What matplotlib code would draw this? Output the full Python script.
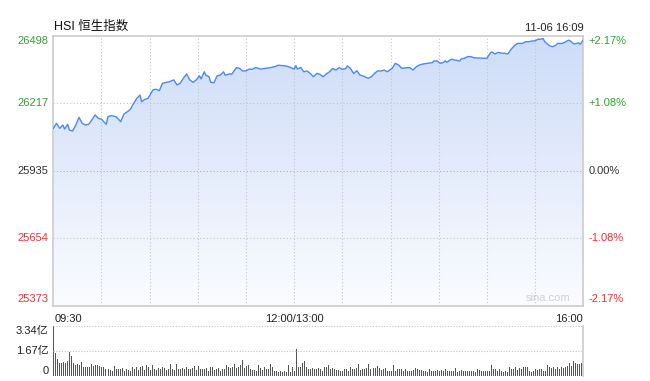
import matplotlib
matplotlib.use("Agg")
import matplotlib.pyplot as plt
import numpy as np
from matplotlib.colors import LinearSegmentedColormap

plt.rcParams['font.family'] = ['Liberation Sans', 'Noto Sans CJK SC', 'DejaVu Sans']

# trading minutes since 09:30 (lunch break removed), index level
minutes = [0, 2, 4, 6, 7, 9, 10, 12, 14, 16, 18, 20, 22, 24, 26, 28, 30, 33, 34, 36, 39, 42, 44, 46, 48, 50,
           52, 54, 55, 57, 59, 62, 64, 66, 68, 72, 75, 77, 79, 81, 83,
           85, 87, 89, 91, 92, 94, 95, 97, 98, 100, 102, 104, 106, 107, 110, 111, 114, 116, 118, 120,
           122, 124, 126, 129, 132, 135, 138, 140, 144, 147, 150, 151, 152, 154, 156, 158, 160, 162, 164, 166,
           168, 170, 172, 174, 176, 178, 180, 182, 183, 185, 187, 189, 191, 193, 196, 198, 200, 202, 204, 206,
           208, 210, 211, 213, 215, 217, 220, 222, 224, 226, 228, 230, 233, 236, 237, 239, 241, 243, 244, 245,
           247, 248,
           250, 253, 254, 256, 258, 260, 262, 265, 268, 270, 272, 273, 275, 277, 279, 281, 283, 285, 287, 289,
           292, 294, 296, 298, 300, 302, 303, 305, 306, 309, 311, 313, 314, 317, 319, 321, 323, 324, 326, 327,
           328, 330]
index = [26111, 26132, 26111, 26125, 26108, 26128, 26104, 26100, 26125, 26157, 26132, 26125, 26128, 26146,
         26167, 26153, 26149, 26128, 26160, 26164, 26160, 26139, 26171, 26180, 26190, 26215, 26236, 26250,
         26222, 26232, 26236, 26271, 26274, 26268, 26299, 26305, 26313, 26292, 26299, 26320, 26338,
         26313, 26303, 26313, 26330, 26317, 26347, 26333, 26326, 26303, 26301, 26330, 26333, 26347, 26333,
         26338, 26336, 26364, 26361, 26350, 26351, 26358, 26357, 26365, 26358, 26361, 26364, 26368, 26374,
         26372, 26367, 26358, 26372, 26358, 26365, 26347, 26350, 26340, 26326, 26340, 26336,
         26326, 26338, 26347, 26361, 26354, 26364, 26357, 26360, 26371, 26361, 26340, 26351, 26333, 26329,
         26320, 26326, 26340, 26351, 26350, 26354, 26347, 26357, 26361, 26382, 26375, 26361, 26364, 26364,
         26354, 26368, 26375, 26379, 26382, 26385, 26392, 26392, 26382, 26386, 26393, 26386, 26396, 26399,
         26396, 26392, 26400, 26403, 26410, 26410, 26405, 26404, 26403, 26403, 26424, 26430, 26421, 26428,
         26424, 26424, 26421, 26440, 26455, 26465, 26465, 26472, 26472, 26475, 26476, 26483, 26482, 26485,
         26472, 26455, 26451, 26458, 26465, 26465, 26472, 26479, 26470, 26463, 26465, 26468, 26461, 26479]

# volume bars (亿), evenly spread over the session
volume = [3.34, 1.56, 1.10, 0.88, 0.84, 0.93, 0.88, 1.00, 1.62, 1.33,
          0.84, 0.72, 0.77, 0.72, 0.90, 0.61, 0.61, 0.61, 0.61, 0.79,
          0.68, 0.70, 0.70, 0.65, 0.56, 0.61, 0.47, 0.43, 0.38, 0.29,
          0.65, 0.43, 0.47, 0.43, 0.50, 0.34, 0.43, 0.38, 0.32, 0.56,
          0.43, 0.56, 0.38, 0.61, 0.68, 0.38, 0.72, 0.61, 0.38, 0.70,
          0.43, 0.38, 0.52, 0.43, 0.56, 0.52, 0.38, 0.43, 0.77, 0.43,
          0.38, 0.77, 0.43, 0.47, 0.52, 0.43, 0.56, 0.47, 0.43, 0.52,
          0.65, 0.38, 0.65, 0.47, 0.43, 0.47, 0.52, 0.34, 0.61, 0.56,
          0.38, 0.43, 0.52, 0.34, 0.47, 0.43, 0.70, 0.56, 0.52, 0.61,
          0.79, 0.52, 0.61, 0.70, 1.06, 0.52, 0.65, 0.72, 0.43, 0.38,
          0.38, 0.34, 0.72, 0.52, 0.38, 0.61, 0.43, 0.47, 0.79, 0.56,
          0.29, 0.29, 0.25, 0.29, 0.25, 0.34, 0.25, 0.70, 0.27, 0.61,
          0.29, 1.78, 0.56, 0.56, 0.84, 0.97, 0.56, 0.47, 0.47, 0.52,
          0.43, 0.47, 0.52,
          0.43, 0.34, 0.56, 0.56, 0.70, 0.47, 0.52, 0.47, 0.38, 0.38,
          0.34, 0.29, 0.43, 0.43, 0.34, 0.56, 0.47, 0.47, 0.52, 0.79,
          0.38, 0.43, 0.47, 0.52, 0.79, 0.47, 0.52, 0.52, 0.65, 0.52,
          0.38, 0.47, 0.52, 0.29, 0.34, 0.34, 0.72, 0.34, 0.43, 0.43,
          0.47, 0.29, 0.43, 0.34, 0.29, 0.34, 0.38, 0.52, 0.43, 0.38,
          0.38, 0.29, 0.34, 0.25, 0.43, 0.29, 0.34, 0.34, 0.38, 0.34,
          0.38, 0.29, 0.43, 0.34, 0.34, 0.29, 0.29, 0.52, 0.25, 0.34,
          0.38, 0.34, 0.29, 0.34, 0.29, 0.34, 0.29, 0.25, 0.43, 0.38,
          0.34, 0.29, 0.29, 0.34, 0.34, 0.72, 0.47, 0.43, 0.34, 0.47,
          0.29, 0.25, 0.34, 0.25, 0.56, 0.47, 0.47, 0.56, 0.38, 0.52,
          0.43, 0.56, 0.56, 0.56, 0.29, 0.25, 0.34, 0.47, 0.38, 0.47,
          0.47, 0.29, 0.34, 0.70, 0.61, 0.52, 0.56, 0.47, 0.56, 0.47,
          0.56, 0.52, 0.61, 0.65, 0.84, 0.65, 1.02, 0.88, 0.79, 0.79,
          0.88, 1.24]

prev_close = 25935
y_levels = [26498, 26217, 25935, 25654, 25373]
pct_labels = ['+2.17%', '+1.08%', '0.00%', '-1.08%', '-2.17%']
vol_labels = ['3.34亿', '1.67亿', '0']
vol_levels = [3.34, 1.67, 0]
x_labels = ['09:30', '12:00/13:00', '16:00']
x_label_pos = [0, 150, 330]
title = 'HSI 恒生指数'
stamp = '11-06 16:09'

GREEN = '#2aa52a'
RED = '#f03030'
GRID = '#c4c4c4'
BORDER = '#cccccc'

def level_color(v):
    if v > prev_close:
        return GREEN
    if v < prev_close:
        return RED
    return '#333333'

fig = plt.figure(figsize=(6.5, 3.81), dpi=100)
ax = fig.add_axes([53.3 / 650, 1 - 305.5 / 381, 530 / 650, 270 / 381])
axv = fig.add_axes([53.3 / 650, 1 - 375.7 / 381, 530 / 650, 49.4 / 381])

ymin, ymax = y_levels[-1], y_levels[0]
ax.set_xlim(0, 330)
ax.set_ylim(ymin, ymax)

# gradient fill under the line
poly = ax.fill_between(minutes, index, ymin, color='none', lw=0)
cmap = LinearSegmentedColormap.from_list('fade', ['#fbfcff', '#cddcf8'])
grad = np.linspace(0, 1, 256).reshape(-1, 1)
img = ax.imshow(grad, cmap=cmap, extent=[0, 330, ymin, ymax], origin='lower',
                aspect='auto', zorder=1)
img.set_clip_path(poly.get_paths()[0], transform=ax.transData)
ax.plot(minutes, index, color='#4d8af0', lw=1.0, zorder=3)

for t in range(30, 330, 30):
    ax.axvline(t, color=GRID, lw=0.8, ls=(0, (1, 2)), zorder=2)
for v in y_levels[1:-1]:
    ax.axhline(v, color='#b0b0b0' if v == prev_close else GRID, lw=0.8,
               ls=(0, (1, 2)), zorder=2)

ax.set_xticks([])
ax.set_yticks([])
for s in ax.spines.values():
    s.set_color(BORDER)
    s.set_linewidth(1.2)

for i, (v, p) in enumerate(zip(y_levels, pct_labels)):
    dy = -6 if i == 0 else (6 if i == len(y_levels) - 1 else 0)
    c = level_color(v)
    ax.annotate(str(v), xy=(0, v), xycoords=('axes fraction', 'data'),
                xytext=(-3.3, dy * 0.72), textcoords='offset points',
                ha='right', va='center', fontsize=8, color=c)
    ax.annotate(p, xy=(1, v), xycoords=('axes fraction', 'data'),
                xytext=(4, dy * 0.72), textcoords='offset points',
                ha='left', va='center', fontsize=8, color=c)

for lab, t, ha in zip(x_labels, x_label_pos, ['left', 'center', 'right']):
    ax.annotate(lab, xy=(t, ymin), xycoords='data', xytext=(1 if ha == 'left' else 0, -6),
                textcoords='offset points', ha=ha, va='top', fontsize=8, color='#222222')

ax.text(0.002, 1.01, title, transform=ax.transAxes, ha='left', va='bottom',
        fontsize=9, color='#111111')
ax.text(1.0, 1.01, stamp, transform=ax.transAxes, ha='right', va='bottom',
        fontsize=8, color='#222222')
ax.text(0.975, 0.01, 'sina.com', transform=ax.transAxes, ha='right', va='bottom',
        fontsize=8, color='#d0d0d0', zorder=4)

# volume panel: one-pixel bars
xs = np.linspace(0, 330, len(volume))
axv.vlines(xs, 0, volume, colors='#555555', linewidth=0.72, antialiased=False)
axv.set_xlim(0, 330)
axv.set_ylim(0, 3.34)
axv.set_xticks([])
axv.set_yticks([])
for k in ['left', 'top', 'bottom']:
    axv.spines[k].set_visible(False)
axv.spines['right'].set_color(BORDER)
axv.spines['right'].set_linewidth(1.2)
for v in vol_levels[:2]:
    axv.axhline(v, color=GRID, lw=0.8, ls=(0, (1, 1.5)), clip_on=False)
for i, (v, lab) in enumerate(zip(vol_levels, vol_labels)):
    dy = -5 if i == 0 else (5 if i == len(vol_levels) - 1 else 0)
    axv.annotate(lab, xy=(0, v), xycoords=('axes fraction', 'data'),
                 xytext=(-3.3, dy * 0.72), textcoords='offset points',
                 ha='right', va='center', fontsize=8, color='#222222')

fig.savefig('out.png', dpi=100)
